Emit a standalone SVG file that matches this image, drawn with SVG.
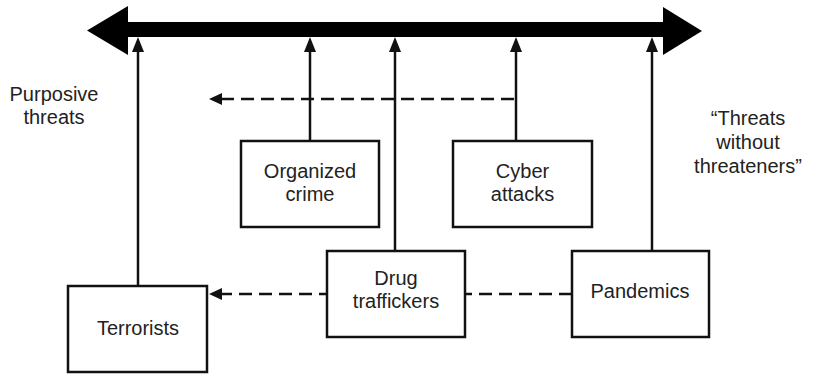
<svg xmlns="http://www.w3.org/2000/svg" width="820" height="374" viewBox="0 0 820 374">
<style>
  .box { fill: #fff; stroke: #111; stroke-width: 2.5; }
  .lbl { font-family: "Liberation Sans", Arial, sans-serif; font-size: 20px; fill: #222; text-anchor: middle; }
  .solid { stroke: #111; stroke-width: 2.5; fill: none; }
  .dash { stroke: #111; stroke-width: 2.5; fill: none; stroke-dasharray: 13 7; }
</style>
<defs>
  <marker id="up" markerUnits="userSpaceOnUse" markerWidth="16" markerHeight="14" refX="0" refY="6" orient="auto" viewBox="0 0 16 12" overflow="visible">
    <path d="M0,0 L15,6 L0,12 z" fill="#111"/>
  </marker>
  <marker id="left" markerUnits="userSpaceOnUse" markerWidth="14" markerHeight="13" refX="0" refY="6" orient="auto" viewBox="0 0 14 12" overflow="visible">
    <path d="M0,0 L13,6 L0,12 z" fill="#111"/>
  </marker>
</defs>
<rect width="820" height="374" fill="#fff"/>
<g id="spectrum">
  <polygon points="87,30.5 128,6 128,22 663,22 663,7 702,31 663,55 663,37 128,37 128,55" fill="#000"/>
</g>
<g id="connectors">
  <line class="solid" x1="138" y1="286" x2="138" y2="52" marker-end="url(#up)"/>
  <line class="solid" x1="310" y1="141" x2="310" y2="52" marker-end="url(#up)"/>
  <line class="solid" x1="395" y1="251" x2="395" y2="52" marker-end="url(#up)"/>
  <line class="solid" x1="516" y1="141" x2="516" y2="52" marker-end="url(#up)"/>
  <line class="solid" x1="652" y1="251" x2="652" y2="52" marker-end="url(#up)"/>
  <line class="dash" x1="514" y1="99" x2="222" y2="99" marker-end="url(#left)"/>
  <line class="dash" x1="572" y1="294" x2="222" y2="294" marker-end="url(#left)"/>
</g>
<g id="terrorists">
  <rect class="box" x="68" y="286" width="139" height="86"/>
  <text class="lbl" x="138" y="335">Terrorists</text>
</g>
<g id="organized-crime">
  <rect class="box" x="241" y="141" width="138" height="86"/>
  <text class="lbl" x="310" y="177.5">Organized</text>
  <text class="lbl" x="310" y="201">crime</text>
</g>
<g id="cyber-attacks">
  <rect class="box" x="453" y="141" width="139" height="86"/>
  <text class="lbl" x="522.5" y="177.5">Cyber</text>
  <text class="lbl" x="522.5" y="201">attacks</text>
</g>
<g id="drug-traffickers">
  <rect class="box" x="327" y="251" width="138" height="86"/>
  <text class="lbl" x="396" y="284.5">Drug</text>
  <text class="lbl" x="396" y="308">traffickers</text>
</g>
<g id="pandemics">
  <rect class="box" x="572" y="251" width="137" height="86"/>
  <text class="lbl" x="640" y="298">Pandemics</text>
</g>
<g id="labels">
  <text class="lbl" x="54" y="100.5">Purposive</text>
  <text class="lbl" x="54" y="124">threats</text>
  <text class="lbl" x="748" y="125">“Threats</text>
  <text class="lbl" x="748" y="149">without</text>
  <text class="lbl" x="748" y="173">threateners”</text>
</g>
</svg>
